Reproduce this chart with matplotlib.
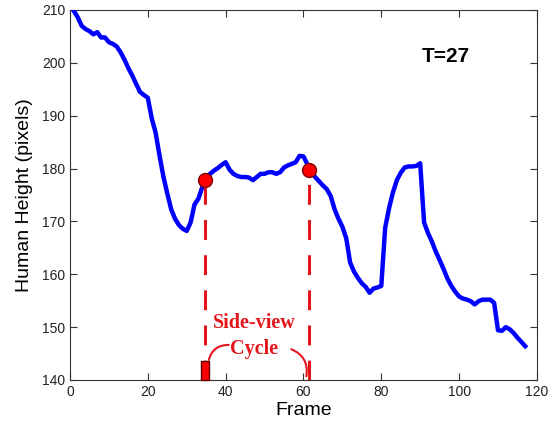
import matplotlib.pyplot as plt
from matplotlib.patches import Rectangle

# human height per frame
frames = list(range(1, 118))
height = [209.8, 208.6, 207.0, 206.4, 206.0, 205.4, 205.8, 204.8, 204.8, 203.9,
          203.6, 203.1, 202.0, 200.6, 199.0, 197.6, 196.0, 194.5, 193.9, 193.4,
          189.5, 186.8, 182.5, 178.5, 175.3, 172.3, 170.5, 169.3, 168.6, 168.2,
          169.8, 173.2, 174.3, 176.5, 178.0, 179.0, 179.6, 180.1, 180.7, 181.2,
          179.8, 179.0, 178.6, 178.4, 178.4, 178.3, 177.8, 178.4, 179.0, 179.0,
          179.3, 179.3, 179.0, 179.3, 180.2, 180.6, 180.9, 181.2, 182.4, 182.3,
          180.8, 179.5, 178.4, 177.6, 176.8, 176.1, 174.8, 172.3, 170.5, 169.0,
          166.8, 162.2, 160.5, 159.3, 158.3, 157.6, 156.5, 157.3, 157.5, 157.8,
          168.8, 172.5, 175.5, 177.8, 179.2, 180.2, 180.4, 180.4, 180.5, 181.0,
          169.8, 167.8, 166.2, 164.3, 162.7, 161.0, 159.2, 157.8, 156.7, 155.8,
          155.4, 155.2, 154.9, 154.3, 154.9, 155.2, 155.2, 155.2, 154.6, 149.4,
          149.3, 150.0, 149.6, 148.9, 148.0, 147.2, 146.4]

cycle_x = [34.6, 61.4]
cycle_y = [177.9, 179.8]
period_label = 'T=27'
cycle_label = 'Side-view\nCycle'

red = '#e3161c'

fig = plt.figure(figsize=(5.49, 4.25), dpi=100)
ax = fig.add_axes([0.1275, 0.1059, 0.8505, 0.8706])

ax.plot(frames, height, color='#0000ff', lw=3.2, solid_joinstyle='round', zorder=3)

for x, y in zip(cycle_x, cycle_y):
    ax.plot([x, x], [140, y], color=red, lw=2.2, linestyle=(0, (6.5, 5)), zorder=2)
ax.plot(cycle_x, cycle_y, 'o', color='#ff0000', mec='#800000', mew=1, ms=10, zorder=4)

# start marker on the frame axis
ax.add_patch(Rectangle((cycle_x[0] - 0.9, 140), 1.9, 3.5, facecolor='#ff0000',
                       edgecolor='#600000', lw=1, zorder=4, clip_on=False))

ax.text(47.3, 148.3, cycle_label, color=red, ha='center', va='center',
        fontsize=14.5, fontweight='bold', family='Liberation Serif', linespacing=1.4)
ax.annotate('', xy=(35.5, 143.3), xytext=(41.5, 146.6),
            arrowprops=dict(arrowstyle='-', color=red, lw=1.5,
                            connectionstyle='arc3,rad=0.45'))
ax.annotate('', xy=(60.6, 140.2), xytext=(56.2, 146.0),
            arrowprops=dict(arrowstyle='-', color=red, lw=1.5,
                            connectionstyle='arc3,rad=-0.45'))

ax.text(96.5, 201.2, period_label, ha='center', va='center', fontsize=15,
        fontweight='bold', family='Liberation Sans')

ax.set_xlim(0, 120)
ax.set_ylim(140, 210)
ax.set_xticks(range(0, 121, 20))
ax.set_yticks(range(140, 211, 10))
ax.tick_params(direction='in', top=True, right=True, length=5, labelsize=10,
               labelcolor='#222222', color='#333333')
for lab in ax.get_xticklabels() + ax.get_yticklabels():
    lab.set_family('Liberation Sans')
for s in ax.spines.values():
    s.set_color('#333333')
    s.set_linewidth(0.8)

ax.set_xlabel('Frame', fontsize=14, family='Liberation Sans', labelpad=2)
ax.set_ylabel('Human Height (pixels)', fontsize=14, family='Liberation Sans', labelpad=6)

fig.savefig('out.png', dpi=100)
